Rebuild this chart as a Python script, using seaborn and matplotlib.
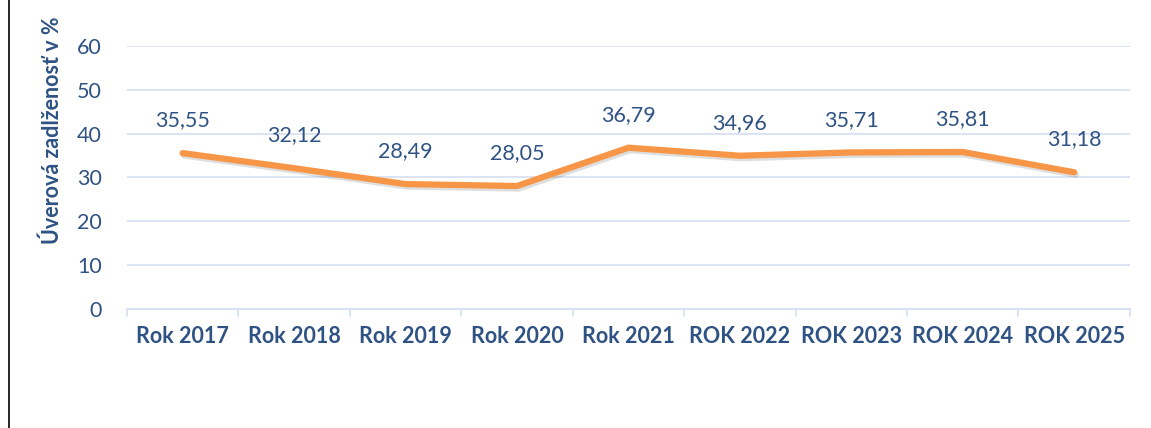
import matplotlib
matplotlib.use("Agg")
import matplotlib.pyplot as plt
import matplotlib.patheffects as pe
from matplotlib.lines import Line2D
import seaborn as sns
import pandas as pd

# data
years = ["Rok 2017", "Rok 2018", "Rok 2019", "Rok 2020", "Rok 2021",
         "ROK 2022", "ROK 2023", "ROK 2024", "ROK 2025"]
debt_ratio = [35.55, 32.12, 28.49, 28.05, 36.79, 34.96, 35.71, 35.81, 31.18]

df = pd.DataFrame({"year": years, "value": debt_ratio})
df["pos"] = range(len(years))

sns.set_style("white")
plt.rcParams["font.family"] = ["Lato", "DejaVu Sans"]

text_col = "#2E5283"
grid_col = "#D9E2F3"
line_col = "#F79646"

fig = plt.figure(figsize=(11.51, 4.28), dpi=100)
ax = fig.add_axes([0.1103, 0.278, 0.8714, 0.6147])

sns.lineplot(data=df, x="pos", y="value", ax=ax, color=line_col, linewidth=4.5,
             solid_capstyle="round", solid_joinstyle="round",
             path_effects=[pe.SimpleLineShadow(offset=(1.2, -1.8), alpha=0.13),
                           pe.Normal()])

for _, r in df.iterrows():
    ax.text(r["pos"], r["value"] + 5.2, f"{r['value']:.2f}".replace(".", ","),
            ha="center", va="bottom", fontsize=15.5, color=text_col)

ax.set_xlim(-0.5, len(years) - 0.5)
ax.set_ylim(0, 60)
ax.set_yticks(range(0, 61, 10))
ax.set_xticks(df["pos"])
ax.set_xticklabels(years, fontsize=15.5, fontweight="bold", color=text_col)
ax.tick_params(axis="y", labelsize=15.5, labelcolor=text_col, length=0, pad=18)
ax.tick_params(axis="x", length=0, pad=12)
ax.yaxis.grid(True, color=grid_col, linewidth=1.3)
ax.set_axisbelow(True)
for s in ["top", "right", "left"]:
    ax.spines[s].set_visible(False)
ax.spines["bottom"].set_color(grid_col)
ax.spines["bottom"].set_linewidth(1.5)
# category separator ticks
for i in range(len(years) + 1):
    ax.plot([i - 0.5, i - 0.5], [0, -1.6], color=grid_col, linewidth=1.3,
            clip_on=False)
ax.set_xlabel("")
ax.set_ylabel("")

fig.text(0.045, 0.695, "Úverová zadlženosť v %", rotation=90, ha="center",
         va="center", fontsize=15.5, fontweight="bold", color=text_col)

fig.add_artist(Line2D([0.0075, 0.0075], [0, 1], color="black", linewidth=1.2))

fig.savefig("out.png", dpi=100)
